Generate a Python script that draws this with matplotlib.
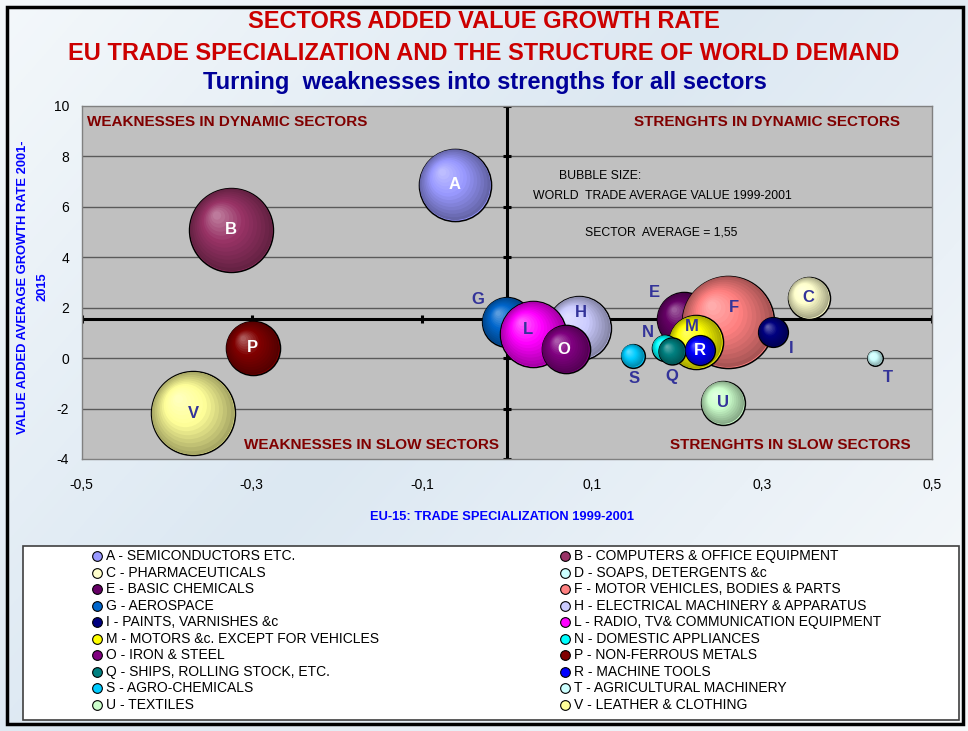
import numpy as np
import matplotlib
matplotlib.use('Agg')
import matplotlib.pyplot as plt
from matplotlib import transforms as mtrans
from matplotlib.colors import to_rgb
from matplotlib.patches import Rectangle

# ---------------- data ----------------
codes = ['A', 'B', 'C', 'D', 'E', 'F', 'G', 'H', 'I', 'L',
         'M', 'N', 'O', 'P', 'Q', 'R', 'S', 'T', 'U', 'V']
sectors = ['SEMICONDUCTORS ETC.', 'COMPUTERS & OFFICE EQUIPMENT', 'PHARMACEUTICALS',
           'SOAPS, DETERGENTS &c', 'BASIC CHEMICALS', 'MOTOR VEHICLES, BODIES & PARTS',
           'AEROSPACE', 'ELECTRICAL MACHINERY & APPARATUS', 'PAINTS, VARNISHES &c',
           'RADIO, TV& COMMUNICATION EQUIPMENT', 'MOTORS &c. EXCEPT FOR VEHICLES',
           'DOMESTIC APPLIANCES', 'IRON & STEEL', 'NON-FERROUS METALS',
           'SHIPS, ROLLING STOCK, ETC.', 'MACHINE TOOLS', 'AGRO-CHEMICALS',
           'AGRICULTURAL MACHINERY', 'TEXTILES', 'LEATHER & CLOTHING']
trade_specialization = [-0.061, -0.324, 0.355, 0.27, 0.208, 0.260, 0.0, 0.085, 0.313, 0.031,
                        0.222, 0.186, 0.069, -0.299, 0.194, 0.227, 0.148, 0.433, 0.254, -0.369]
growth_rate = [6.87, 5.08, 2.39, 1.30, 1.54, 1.44, 1.43, 1.19, 1.03, 0.95,
               0.63, 0.40, 0.35, 0.40, 0.26, 0.30, 0.09, 0.0, -1.77, -2.19]
world_trade = [130, 176, 44, 6, 73, 212, 62, 102, 22, 109,
               73, 17, 58, 73, 18, 22, 14, 6, 48, 176]
sector_average = 1.55
xticks = [-0.5, -0.3, -0.1, 0.1, 0.3, 0.5]
xtick_labels = ['-0,5', '-0,3', '-0,1', '0,1', '0,3', '0,5']
yticks = [-4, -2, 0, 2, 4, 6, 8, 10]
ytick_labels = ['-4', '-2', '0', '2', '4', '6', '8', '10']

# ---------------- styles ----------------
colors = ['#9999FF', '#993366', '#FFFFCC', '#CCFFFF', '#660066', '#FF8080', '#0066CC',
          '#CCCCFF', '#000080', '#FF00FF', '#FFFF00', '#00FFFF', '#800080', '#800000',
          '#008080', '#0000FF', '#00CCFF', '#CCFFFF', '#CCFFCC', '#FFFF99']
white_labels = {'A', 'B', 'O', 'P', 'R'}
label_offsets = {  # points
    'G': (-21, 16), 'E': (-21, 19), 'N': (-12, 11), 'S': (1, -16), 'Q': (0, -18),
    'I': (13, -12), 'T': (9, -14), 'L': (-4, 3), 'H': (1.5, 11), 'F': (4, 10),
    'M': (-3, 11), 'O': (-1, 0),
}
hidden_labels = {'D'}
NAVY = '#333399'
SANS = ['Liberation Sans', 'DejaVu Sans']

W, H, DPI = 968, 731, 100
fig = plt.figure(figsize=(W / DPI, H / DPI), dpi=DPI)

# background axes in pixel coordinates
bg = fig.add_axes([0, 0, 1, 1], zorder=0)
bg.set_xlim(0, W)
bg.set_ylim(H, 0)
bg.axis('off')
yy, xx = np.mgrid[0:H:2, 0:W:2]
u = (xx / W * 0.6 + yy / H * 0.4)
stops = np.array([0.0, 0.45, 1.0])
c0, c1, c2 = np.array(to_rgb('#f4f8fb')), np.array(to_rgb('#dce8f2')), np.array(to_rgb('#f8fafc'))
img = np.zeros(u.shape + (3,))
for ch in range(3):
    img[..., ch] = np.interp(u, stops, [c0[ch], c1[ch], c2[ch]])
bg.imshow(img, extent=(0, W, H, 0), aspect='auto', zorder=0)
bg.add_patch(Rectangle((7, 7), 956, 717, fill=False, ec='black', lw=2.5, zorder=5))
bg.add_patch(Rectangle((23, 546), 936, 174, fc='white', ec='#404040', lw=1.2, zorder=3))

# legend entries
for i, (c, s, col) in enumerate(zip(codes, sectors, colors)):
    cx = 97 if i % 2 == 0 else 565
    cy = 556 + (i // 2) * 16.55
    bg.plot([cx], [cy], marker='o', ms=7, mfc=col, mec='black', mew=0.8, zorder=6)
    bg.text(cx + 9, cy, f'{c} - {s}', fontsize=10, family=SANS, va='center', ha='left', zorder=6)

# titles
fig.text(0.5, 1 - 22 / H, 'SECTORS ADDED VALUE GROWTH RATE', color='#CC0000',
         fontsize=17, fontweight='bold', family=SANS, ha='center', va='center')
fig.text(0.5, 1 - 54 / H, 'EU TRADE SPECIALIZATION AND THE STRUCTURE OF WORLD DEMAND',
         color='#CC0000', fontsize=17, fontweight='bold', family=SANS, ha='center', va='center')
fig.text(485 / W, 1 - 83 / H, 'Turning  weaknesses into strengths for all sectors',
         color='#000099', fontsize=17, fontweight='bold', family=SANS, ha='center', va='center')

# axis titles
fig.text(502 / W, 1 - 517 / H, 'EU-15: TRADE SPECIALIZATION 1999-2001', color='#0000FF',
         fontsize=9.3, fontweight='bold', family=SANS, ha='center', va='center')
fig.text(23 / W, 1 - 287 / H, 'VALUE ADDED AVERAGE GROWTH RATE 2001-', color='#0000FF',
         fontsize=9.3, fontweight='bold', family=SANS, ha='center', va='center', rotation=90)
fig.text(42 / W, 1 - 287 / H, '2015', color='#0000FF',
         fontsize=9.3, fontweight='bold', family=SANS, ha='center', va='center', rotation=90)

# main axes
left, right, top, bottom = 81.7, 932, 105.7, 459
ax = fig.add_axes([left / W, 1 - bottom / H, (right - left) / W, (bottom - top) / H], zorder=2)
ax.set_facecolor('#C0C0C0')
ax.set_xlim(-0.5, 0.5)
ax.set_ylim(-4, 10)
ax.set_xticks(xticks)
ax.set_xticklabels(xtick_labels, family=SANS, fontsize=10)
ax.set_yticks(yticks)
ax.set_yticklabels(ytick_labels, family=SANS, fontsize=10)
ax.tick_params(axis='both', length=0)
ax.tick_params(axis='x', pad=14)
ax.tick_params(axis='y', pad=9)
for sp in ax.spines.values():
    sp.set_color('#808080')
    sp.set_linewidth(1)
for yv in yticks[1:-1]:
    ax.axhline(yv, color='#5a5a5a', lw=1, zorder=1)
ax.axhline(sector_average, color='black', lw=2.2, zorder=2)
ax.axvline(0, color='black', lw=2.2, zorder=2)
ax.plot(xticks, [sector_average] * len(xticks), ls='none', marker='|', ms=6, mew=2.2,
        color='black', zorder=2)
ax.plot([0] * len(yticks), yticks, ls='none', marker='_', ms=6, mew=2.2,
        color='black', zorder=2)

# quadrant labels
qkw = dict(color='#800000', fontsize=11, fontweight='bold', family=SANS, va='center')
fig.text(87 / W, 1 - 122 / H, 'WEAKNESSES IN DYNAMIC SECTORS', ha='left', zorder=10, **qkw)
fig.text(900 / W, 1 - 122 / H, 'STRENGHTS IN DYNAMIC SECTORS', ha='right', zorder=10, **qkw)
fig.text(499 / W, 1 - 445 / H, 'WEAKNESSES IN SLOW SECTORS', ha='right', zorder=10, **qkw)
fig.text(911 / W, 1 - 445 / H, 'STRENGHTS IN SLOW SECTORS', ha='right', zorder=10, **qkw)

# notes
nkw = dict(color='black', fontsize=8.8, family=SANS, ha='center', va='center', zorder=10)
fig.text(600 / W, 1 - 176 / H, 'BUBBLE SIZE:', **nkw)
fig.text(662 / W, 1 - 196 / H, 'WORLD  TRADE AVERAGE VALUE 1999-2001', **nkw)
fig.text(661 / W, 1 - 233 / H, 'SECTOR  AVERAGE = 1,55', **nkw)


def mix(a, b, t):
    return tuple(np.array(a) * (1 - t) + np.array(b) * t)


# bubbles with shading
px2pt = 72 / DPI
NL = 14
for k, (c, x, y, wt, col) in enumerate(zip(codes, trade_specialization, growth_rate,
                                           world_trade, colors)):
    r_px = np.sqrt(wt * 10)
    r_pt = r_px * px2pt
    base = np.array(to_rgb(col))
    dark = base * 0.66
    light = base + (1 - base) * 0.35
    z = 3 + k * 0.05
    ax.scatter([x], [y], s=(2 * r_pt) ** 2, c=[col], edgecolors='black', linewidths=1.1,
               zorder=z)
    for j in range(NL):
        t = j / (NL - 1)
        f = 1 - t * 0.9
        if t < 0.55:
            cc = mix(dark, base, t / 0.55)
        else:
            cc = mix(base, light, (t - 0.55) / 0.45)
        off = (1 - f) * r_pt * 0.38
        tr = mtrans.offset_copy(ax.transData, fig=fig, x=-off, y=off, units='points')
        rr = r_pt * f - (0.5 if j == 0 else 0)
        ax.scatter([x], [y], s=(2 * rr) ** 2, c=[cc], edgecolors='none', transform=tr,
                   zorder=z + 0.001 * (j + 1))
    if c in hidden_labels:
        continue
    dx, dy = label_offsets.get(c, (0, 0))
    ax.annotate(c, (x, y), xytext=(dx, dy), textcoords='offset points', ha='center',
                va='center', fontsize=12, fontweight='bold', family=SANS,
                color='white' if c in white_labels else NAVY, zorder=z + 0.03)

fig.savefig('out.png', dpi=DPI)
